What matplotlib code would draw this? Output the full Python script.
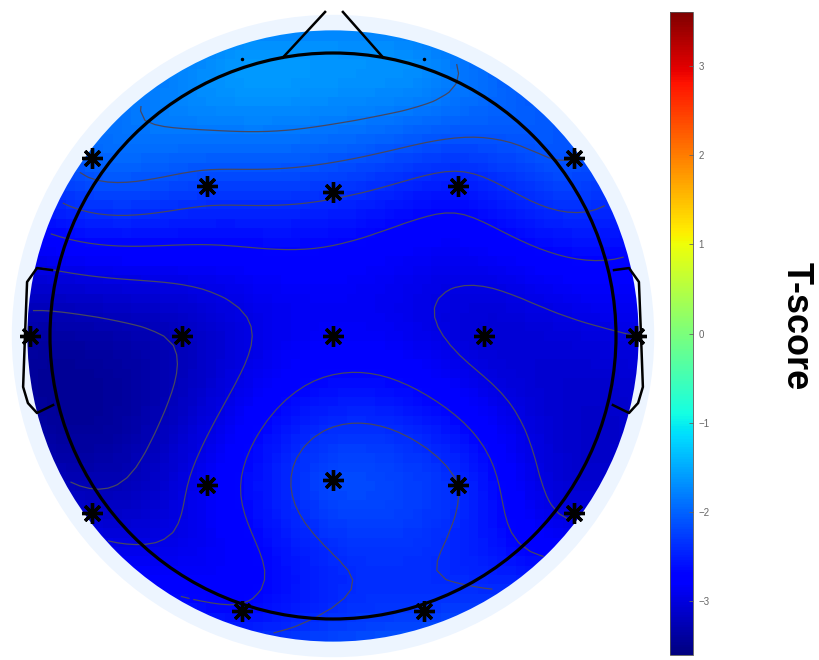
import numpy as np
import matplotlib.pyplot as plt
from matplotlib.patches import Circle, Wedge

# 10-20 channels, positions on a unit head (nose up)
channels = ['Fp1', 'Fp2', 'F7', 'F3', 'Fz', 'F4', 'F8',
            'T7', 'C3', 'Cz', 'C4', 'T8',
            'P7', 'P3', 'Pz', 'P4', 'P8', 'O1', 'O2']
pos_x = [-0.32, 0.32, -0.853, -0.445, 0.0, 0.442, 0.853,
         -1.072, -0.534, 0.0, 0.534, 1.072,
         -0.853, -0.445, 0.0, 0.442, 0.853, -0.322, 0.322]
pos_y = [0.98, 0.98, 0.629, 0.530, 0.509, 0.530, 0.629,
         0.0, 0.0, 0.0, 0.0, 0.0,
         -0.625, -0.527, -0.509, -0.527, -0.625, -0.972, -0.972]
t_scores = [-1.64, -1.72, -2.0, -2.25, -2.35, -2.52, -2.12,
            -3.35, -3.2, -2.82, -3.05, -2.96,
            -3.12, -2.85, -2.2, -2.4, -3.0, -2.64, -2.3]
significant = [False, False, True, True, True, True, True,
               True, True, True, True, True,
               True, True, True, True, True, True, True]
contour_levels = [-3.24, -2.96, -2.68, -2.40, -2.12, -1.84]
clim = 3.6
cbar_ticks = [-3, -2, -1, 0, 1, 2, 3]


# biharmonic spline interpolation (same as matlab griddata 'v4')
def green(d):
    out = np.zeros_like(d)
    nz = d > 0
    out[nz] = d[nz] ** 2 * (np.log(d[nz]) - 1)
    return out


def v4_interp(x, y, z, xi, yi):
    p = np.asarray(x) + 1j * np.asarray(y)
    w = np.linalg.solve(green(np.abs(p[:, None] - p[None, :])), np.asarray(z))
    q = (xi + 1j * yi)[..., None]
    return green(np.abs(q - p)) @ w


R = 1.08          # radius of the coloured disc
R_ring = 1.135    # outer edge of the pale ring
n = 67
edges = np.linspace(-R - 0.03, R + 0.03, n + 1)
centers = (edges[:-1] + edges[1:]) / 2
Xc, Yc = np.meshgrid(centers, centers)
Zfull = v4_interp(pos_x, pos_y, t_scores, Xc, Yc)
rr = np.hypot(Xc, Yc)
Zimg = np.ma.masked_where(rr > R + 0.03, Zfull)
Zcon = np.ma.masked_where(rr > R, Zfull)

fig = plt.figure(figsize=(8.2, 6.6), dpi=100)
ax = fig.add_axes([0, 0, 666 / 820, 1])

mesh = ax.pcolormesh(edges, edges, Zimg, cmap='jet', vmin=-clim, vmax=clim, shading='flat')
ax.contour(Xc, Yc, Zcon, levels=contour_levels, colors=[(0.28, 0.28, 0.38)],
           linewidths=0.9, linestyles='solid')

# pale ring that hides the jagged edge of the grid
ax.add_patch(Wedge((0, 0), R_ring + 0.1, 0, 360, width=0.1, facecolor='white',
                   edgecolor='none', zorder=3))
ax.add_patch(Wedge((0, 0), R_ring, 0, 360, width=R_ring - R,
                   facecolor=(0.93, 0.96, 1.0), edgecolor='none', zorder=3))

# head, ears, nose
ax.add_patch(Circle((0, 0), 1.0, fill=False, lw=2.3, color='k', zorder=4))
ear_x = np.array([-0.993, -1.046, -1.081, -1.088, -1.095, -1.078, -1.046, -0.989])
ear_y = np.array([0.233, 0.240, 0.191, 0.011, -0.180, -0.237, -0.272, -0.244])
ax.plot(ear_x, ear_y, color='k', lw=1.8, zorder=4)
ax.plot(-ear_x, ear_y, color='k', lw=1.8, zorder=4)
ax.plot([-0.177, -0.028], [0.984, 1.145], color='k', lw=1.8, zorder=4)
ax.plot([0.177, 0.035], [0.984, 1.145], color='k', lw=1.8, zorder=4)

# electrodes
for x, y, sig in zip(pos_x, pos_y, significant):
    if sig:
        ax.plot(x, y, marker=(8, 2, 0), markersize=15, markeredgewidth=2.4,
                color='k', linestyle='', zorder=5)
    else:
        ax.plot(x, y, marker='.', markersize=3, color='k', linestyle='', zorder=5)

ax.set_xlim(-333 / 283, 333 / 283)
ax.set_ylim((336 - 660) / 283, 336 / 283)
ax.set_aspect('equal')
ax.axis('off')

# colorbar
cax = fig.add_axes([670 / 820, 5 / 660, 23 / 820, 643 / 660])
cb = fig.colorbar(mesh, cax=cax, ticks=cbar_ticks)
cb.outline.set_linewidth(0.6)
cb.outline.set_edgecolor('#555555')
cax.tick_params(direction='in', length=3, width=0.6, labelsize=7, colors='#666666',
                pad=4)
for lab in cax.get_yticklabels():
    lab.set_family('Liberation Sans')

fig.text(796 / 820, 1 - 326 / 660, 'T-score', rotation=-90, ha='center', va='center',
         fontsize=26, fontweight='bold', family='Liberation Sans')

fig.savefig('out.png', dpi=100)
